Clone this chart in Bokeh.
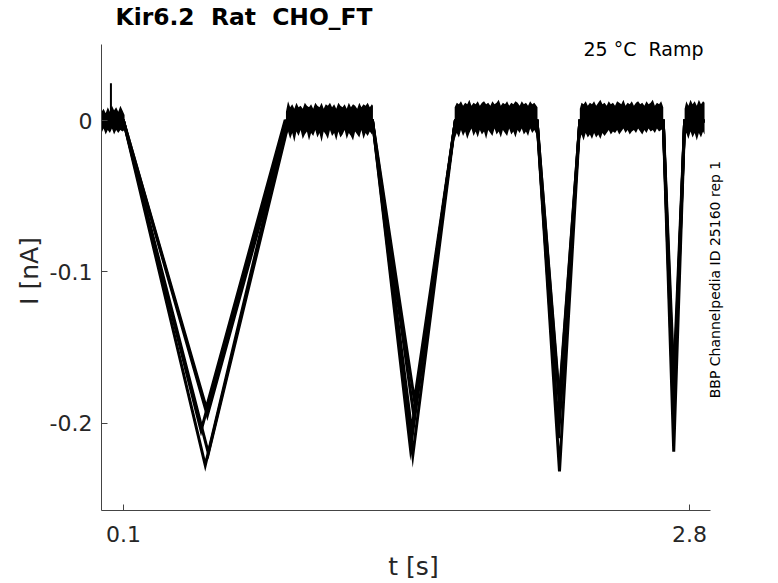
from bokeh.plotting import figure
from bokeh.models import Range1d, FixedTicker, Label
from bokeh.embed import file_html
from bokeh.resources import INLINE

# ---------------- data ----------------
x_ticks = [0.1, 2.8]
x_tick_labels = ["0.1", "2.8"]
y_ticks = [0, -0.1, -0.2]
y_tick_labels = ["0", "-0.1", "-0.2"]

# Repeated sweeps: key points of each trace (t in s, I in nA)
rep1_t = [-0.005, 0.10, 0.470, 0.875, 1.288, 1.480, 1.683, 2.073, 2.180, 2.277, 2.675, 2.725, 2.777, 2.872]
rep1_i = [0.0, 0.0, -0.205, 0.0, 0.0, -0.2215, 0.0, 0.0, -0.232, 0.0, 0.0, -0.219, 0.0, 0.0]
rep2_t = [-0.005, 0.10, 0.490, 0.880, 1.288, 1.469, 1.683, 2.073, 2.172, 2.277, 2.675, 2.722, 2.777, 2.872]
rep2_i = [0.0, 0.0, -0.228, 0.0, 0.0, -0.217, 0.0, 0.0, -0.200, 0.0, 0.0, -0.180, 0.0, 0.0]
rep3_t = [-0.005, 0.10, 0.500, 0.885, 1.288, 1.488, 1.683, 2.073, 2.178, 2.277, 2.675, 2.727, 2.777, 2.872]
rep3_i = [0.0, 0.0, -0.195, 0.0, 0.0, -0.185, 0.0, 0.0, -0.185, 0.0, 0.0, -0.175, 0.0, 0.0]
rep4_t = [-0.005, 0.10, 0.495, 0.870, 1.288, 1.485, 1.683, 2.073, 2.175, 2.277, 2.675, 2.724, 2.777, 2.872]
rep4_i = [0.0, 0.0, -0.190, 0.0, 0.0, -0.195, 0.0, 0.0, -0.210, 0.0, 0.0, -0.195, 0.0, 0.0]
rep5_t = [-0.005, 0.10, 0.505, 0.890, 1.288, 1.475, 1.683, 2.073, 2.183, 2.277, 2.675, 2.726, 2.777, 2.872]
rep5_i = [0.0, 0.0, -0.220, 0.0, 0.0, -0.205, 0.0, 0.0, -0.190, 0.0, 0.0, -0.185, 0.0, 0.0]

# Noise envelope of the overlapping sweeps on the holding plateaus
p1_t = [-0.005, 0.005, 0.015, 0.025, 0.035, 0.045, 0.055, 0.065, 0.075, 0.085, 0.095, 0.105]
p1_hi = [0.006, 0.008, 0.005, 0.009, 0.006, 0.010, 0.007, 0.009, 0.006, 0.010, 0.007, 0.004]
p1_lo = [-0.008, -0.005, -0.009, -0.006, -0.008, -0.005, -0.009, -0.006, -0.008, -0.006, -0.007, -0.006]

p2_t = [0.875, 0.885, 0.895, 0.905, 0.915, 0.925, 0.935, 0.945, 0.955, 0.965, 0.975, 0.985, 0.995,
        1.005, 1.015, 1.025, 1.035, 1.045, 1.055, 1.065, 1.075, 1.085, 1.095, 1.105, 1.115, 1.125,
        1.135, 1.145, 1.155, 1.165, 1.175, 1.185, 1.195, 1.205, 1.215, 1.225, 1.235, 1.245, 1.255,
        1.265, 1.275, 1.285, 1.290]
p2_hi = [0.006, 0.013, 0.009, 0.011, 0.008, 0.012, 0.009, 0.010, 0.008, 0.012, 0.010, 0.009, 0.011,
         0.008, 0.012, 0.010, 0.009, 0.012, 0.008, 0.011, 0.010, 0.012, 0.009, 0.011, 0.008, 0.012,
         0.010, 0.009, 0.011, 0.008, 0.012, 0.009, 0.011, 0.010, 0.008, 0.012, 0.009, 0.011, 0.010,
         0.012, 0.009, 0.011, 0.010]
p2_lo = [-0.010, -0.007, -0.012, -0.008, -0.014, -0.007, -0.010, -0.006, -0.012, -0.009, -0.007, -0.013, -0.008,
         -0.010, -0.006, -0.011, -0.008, -0.014, -0.007, -0.009, -0.012, -0.006, -0.010, -0.008, -0.013, -0.007,
         -0.011, -0.009, -0.006, -0.012, -0.008, -0.010, -0.013, -0.007, -0.009, -0.011, -0.006, -0.012, -0.008,
         -0.010, -0.007, -0.009, -0.006]

p3_t = [1.680, 1.690, 1.700, 1.710, 1.720, 1.730, 1.740, 1.750, 1.760, 1.770, 1.780, 1.790, 1.800, 1.810,
        1.820, 1.830, 1.840, 1.850, 1.860, 1.870, 1.880, 1.890, 1.900, 1.910, 1.920, 1.930, 1.940, 1.950,
        1.960, 1.970, 1.980, 1.990, 2.000, 2.010, 2.020, 2.030, 2.040, 2.050, 2.060, 2.070, 2.075]
p3_hi = [0.009, 0.012, 0.011, 0.013, 0.010, 0.012, 0.011, 0.014, 0.010, 0.012, 0.011, 0.013, 0.010, 0.012,
         0.013, 0.011, 0.012, 0.010, 0.013, 0.011, 0.012, 0.014, 0.010, 0.012, 0.011, 0.013, 0.010, 0.012,
         0.011, 0.013, 0.012, 0.010, 0.013, 0.011, 0.012, 0.010, 0.013, 0.011, 0.012, 0.010, 0.009]
p3_lo = [-0.012, -0.008, -0.011, -0.006, -0.010, -0.007, -0.012, -0.008, -0.005, -0.010, -0.007, -0.011, -0.006, -0.009,
         -0.007, -0.012, -0.006, -0.008, -0.010, -0.005, -0.009, -0.007, -0.011, -0.006, -0.008, -0.010, -0.005, -0.009,
         -0.007, -0.011, -0.006, -0.008, -0.005, -0.009, -0.007, -0.010, -0.005, -0.008, -0.006, -0.009, -0.005]

p4_t = [2.277, 2.285, 2.295, 2.305, 2.315, 2.325, 2.335, 2.345, 2.355, 2.365, 2.375, 2.385, 2.395, 2.405,
        2.415, 2.425, 2.435, 2.445, 2.455, 2.465, 2.475, 2.485, 2.495, 2.505, 2.515, 2.525, 2.535, 2.545,
        2.555, 2.565, 2.575, 2.585, 2.595, 2.605, 2.615, 2.625, 2.635, 2.645, 2.655, 2.665, 2.675]
p4_hi = [0.008, 0.012, 0.011, 0.013, 0.010, 0.012, 0.011, 0.013, 0.010, 0.012, 0.014, 0.011, 0.012, 0.010,
         0.013, 0.011, 0.012, 0.010, 0.013, 0.012, 0.011, 0.014, 0.010, 0.012, 0.011, 0.013, 0.010, 0.012,
         0.013, 0.011, 0.012, 0.010, 0.013, 0.011, 0.012, 0.014, 0.010, 0.012, 0.011, 0.013, 0.009]
p4_lo = [-0.012, -0.009, -0.013, -0.008, -0.011, -0.009, -0.012, -0.008, -0.011, -0.009, -0.012, -0.008, -0.010,
         -0.008, -0.006, -0.009, -0.007, -0.008, -0.006, -0.009, -0.007, -0.005, -0.008, -0.006, -0.009, -0.007,
         -0.006, -0.008, -0.005, -0.007, -0.009, -0.006, -0.008, -0.005, -0.007, -0.006, -0.008, -0.005, -0.007,
         -0.006, -0.005]

p5_t = [2.777, 2.785, 2.795, 2.805, 2.815, 2.825, 2.835, 2.845, 2.855, 2.865, 2.872]
p5_hi = [0.008, 0.013, 0.010, 0.014, 0.011, 0.013, 0.010, 0.014, 0.011, 0.013, 0.012]
p5_lo = [-0.010, -0.008, -0.012, -0.007, -0.011, -0.008, -0.013, -0.008, -0.011, -0.007, -0.009]

# Capacitive spike at the start of the sweep
spike_t = [0.040]
spike_lo = [-0.004]
spike_hi = [0.025]

title_text = "Kir6.2 \u00a0Rat \u00a0CHO_FT"
cond_text = "25 \u00b0C \u00a0Ramp"
side_text = "BBP Channelpedia ID 25160 rep 1"

# ---------------- figure ----------------
FONT = "DejaVu Sans"
AX = "#262626"

p = figure(width=770, height=583, output_backend="svg", toolbar_location=None,
           x_range=Range1d(-0.005, 2.972), y_range=Range1d(-0.2579, 0.0592),
           min_border_left=101, min_border_right=45, min_border_top=30, min_border_bottom=71)
p.outline_line_color = None
p.grid.visible = False
p.background_fill_color = "white"
p.border_fill_color = "white"

p.title.text = title_text
p.title.text_font = FONT
p.title.text_font_size = "23.4px"
p.title.text_font_style = "bold"
p.title.text_color = "black"
p.title.align = "left"
p.title.offset = 14
p.title.standoff = 1

for ax in (p.xaxis[0], p.yaxis[0]):
    ax.axis_line_color = "#444444"
    ax.major_tick_line_color = "#444444"
    ax.major_tick_in = 6
    ax.major_tick_out = 0
    ax.minor_tick_line_color = None
    ax.major_label_text_font = FONT
    ax.major_label_text_font_size = "22px"
    ax.major_label_text_color = AX
    ax.axis_label_text_font = FONT
    ax.axis_label_text_font_size = "25px"
    ax.axis_label_text_font_style = "normal"
    ax.axis_label_text_color = AX

p.xaxis.ticker = FixedTicker(ticks=x_ticks)
p.xaxis.major_label_overrides = {t: s for t, s in zip(x_ticks, x_tick_labels)}
p.xaxis.axis_label = "t [s]"
p.xaxis.major_label_standoff = 15
p.xaxis.axis_label_standoff = 7
p.xaxis.bounds = (-0.005, 2.9)

p.yaxis.ticker = FixedTicker(ticks=y_ticks)
p.yaxis.major_label_overrides = {t: s for t, s in zip(y_ticks, y_tick_labels)}
p.yaxis.axis_label = "I [nA]"
p.yaxis.major_label_standoff = 9
p.yaxis.axis_label_standoff = 3
p.yaxis.bounds = (-0.2579, 0.0507)

# plateaus (noise band)
for tt, hi, lo in [(p1_t, p1_hi, p1_lo), (p2_t, p2_hi, p2_lo), (p3_t, p3_hi, p3_lo),
                   (p4_t, p4_hi, p4_lo), (p5_t, p5_hi, p5_lo)]:
    p.varea(x=tt, y1=lo, y2=hi, fill_color="black")

# sweeps
for tt, ii in [(rep1_t, rep1_i), (rep2_t, rep2_i), (rep3_t, rep3_i), (rep4_t, rep4_i), (rep5_t, rep5_i)]:
    p.line(tt, ii, line_color="black", line_width=3, line_join="miter")

p.segment(x0=spike_t, y0=spike_lo, x1=spike_t, y1=spike_hi, line_color="black", line_width=2)

p.add_layout(Label(x=2.867, y=0.0474, text=cond_text, text_align="right", text_baseline="alphabetic",
                   text_font=FONT, text_font_size="19px", text_color="black"))
p.add_layout(Label(x=2.924, y=-0.105, text=side_text, angle=1.5707963, angle_units="rad",
                   text_align="center", text_baseline="middle",
                   text_font=FONT, text_font_size="14px", text_color="black"))

open("out.html", "w").write(file_html(p, INLINE))
